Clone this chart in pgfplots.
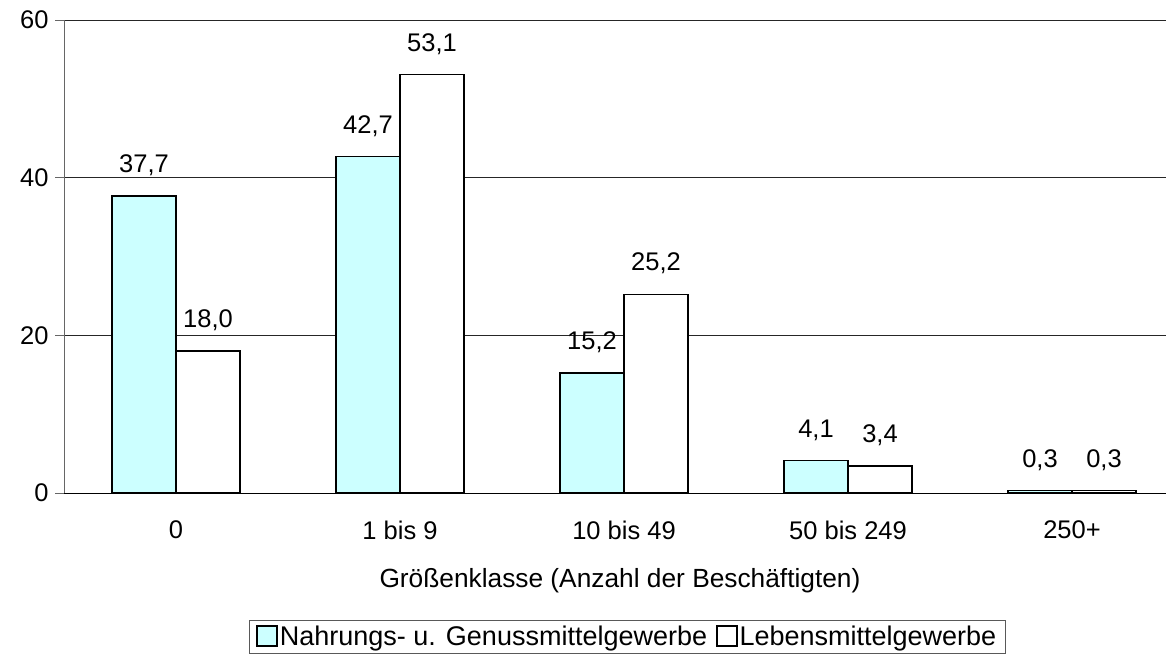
\documentclass[border=0pt]{standalone}
\usepackage{pgfplots}
\pgfplotsset{compat=1.18}
\usepackage{fontspec}
\setmainfont{Liberation Sans}
\definecolor{cyanbar}{HTML}{CCFFFF}
\newcommand{\chartfont}{\fontsize{25.5}{30}\selectfont}
\begin{document}
\begin{tikzpicture}
\useasboundingbox (0pt,0pt) rectangle (1166pt,658pt);
\clip (0pt,0pt) rectangle (1166pt,658pt);
\begin{axis}[
  at={(64pt,165pt)}, anchor=south west,
  scale only axis, width=1120pt, height=473pt,
  xmin=-0.5, xmax=4.5, ymin=0, ymax=60,
  ybar, ybar=0pt, bar width=64pt,
  axis x line*=bottom, axis y line*=left,
  y axis line style={draw=gray!80!black, line width=0.8pt, -},
  x axis line style={draw=black, line width=0.8pt, -},
  ytick={0,20,40,60},
  ymajorgrids, grid style={draw=black!85, line width=0.8pt},
  xtick={0,1,2,3,4},
  xticklabels={0,1 bis 9,10 bis 49,50 bis 249,250+},
  extra x ticks={-0.5,0.5,1.5,2.5,3.5,4.5},
  extra x tick labels={},
  extra x tick style={major tick length=9pt, tick style={draw=gray!80!black, line width=0.8pt}, tick align=outside, grid=none},
  major x tick style={draw=none},
  major tick length=9pt,
  y tick style={draw=gray!80!black, line width=0.8pt},
  tick align=outside,
  ticklabel style={font=\chartfont},
  yticklabel style={anchor=east, xshift=-3pt},
  xticklabel style={yshift=-15pt},
  /pgf/number format/assume math mode=true,
  xlabel={Größenklasse (Anzahl der Beschäftigten)},
  xlabel style={font=\fontsize{26.3}{31}\selectfont, at={(axis description cs:0.4964,-0.186)}, anchor=center},
  nodes near coords,
  nodes near coords style={font=\chartfont, /pgf/number format/fixed, /pgf/number format/fixed zerofill, /pgf/number format/precision=1, /pgf/number format/use comma, /pgf/number format/assume math mode=true, yshift=16pt},
  legend columns=2,
  legend style={at={(axis description cs:0.1652,-0.2685)}, anchor=north west, draw=gray!70!black, line width=0.8pt,
    font=\fontsize{27}{32}\selectfont, inner xsep=7pt, inner ysep=4pt,
    nodes={inner xsep=2pt, inner ysep=2pt},
    /tikz/column 2/.style={column sep=7pt}},
  legend image code/.code={\draw[#1, line width=1.5pt] (0pt,-9pt) rectangle (20pt,11pt);},
  clip=false,
]
\addplot[fill=cyanbar, draw=black, line width=1.5pt] coordinates {(0,37.7) (1,42.7) (2,15.2) (3,4.1) (4,0.3)};
\addplot[fill=white, draw=black, line width=1.5pt] coordinates {(0,18.0) (1,53.1) (2,25.2) (3,3.4) (4,0.3)};
\legend{Nahrungs- u. Genussmittelgewerbe, Lebensmittelgewerbe\hspace{4pt}}
\end{axis}
\end{tikzpicture}
\end{document}
